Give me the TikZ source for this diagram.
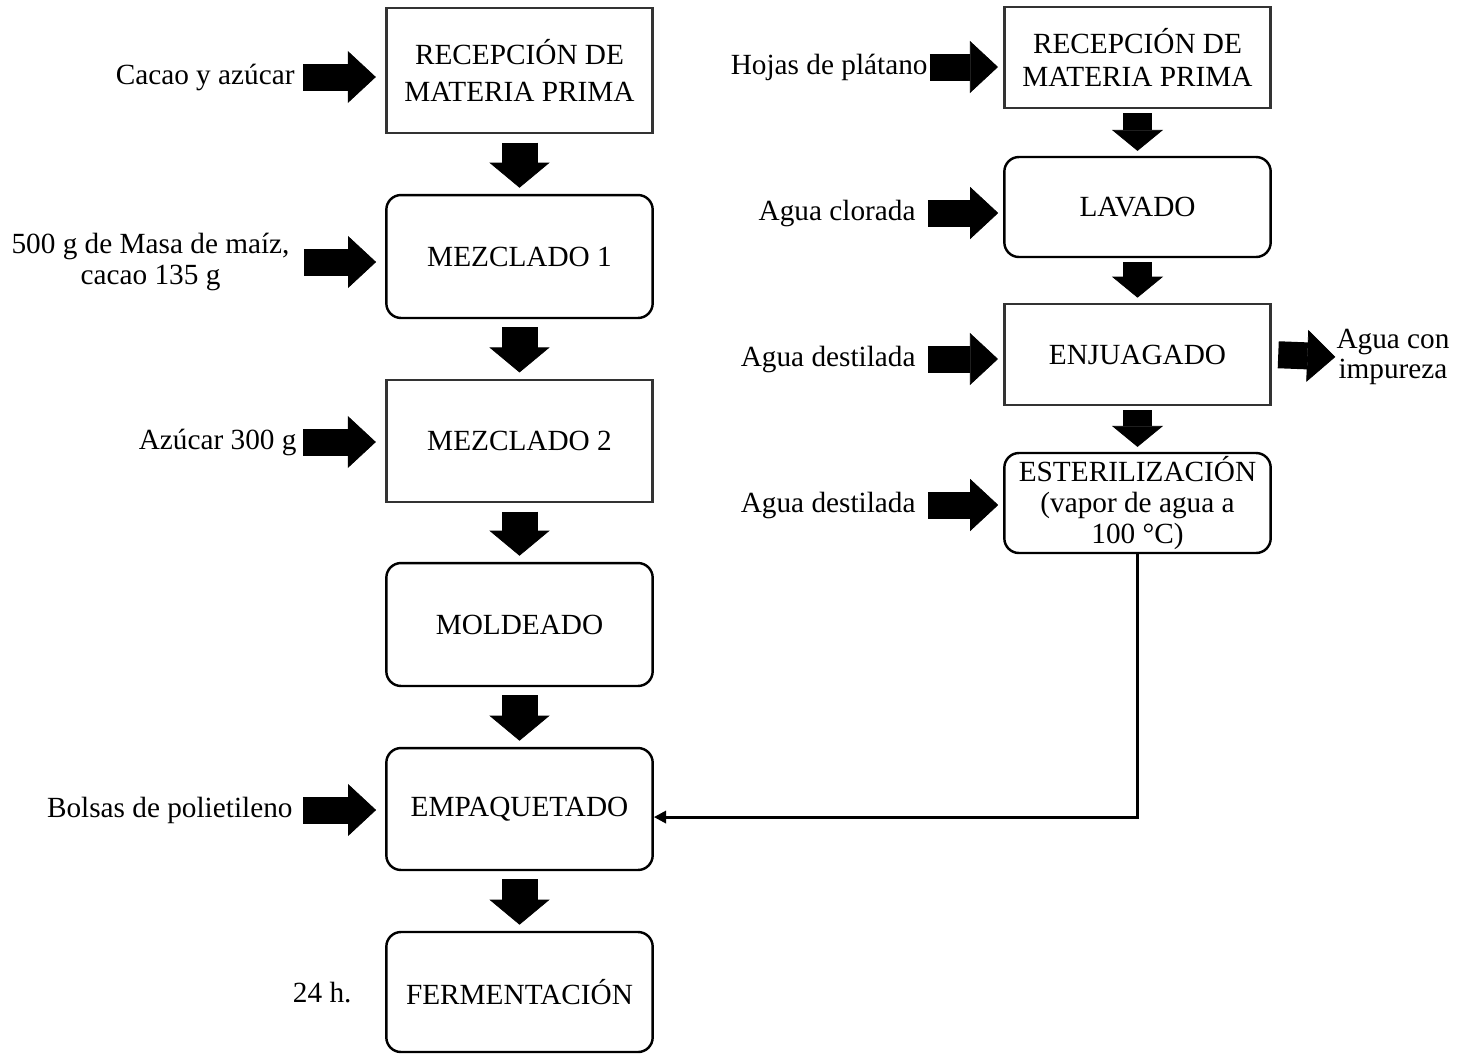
\documentclass[tikz,border=0pt]{standalone}
\usepackage{fontspec}
\setmainfont{Liberation Serif}
\usetikzlibrary{arrows.meta, positioning}

\begin{document}
\begin{tikzpicture}[x=0.41pt, y=-0.41pt]
    \tikzstyle{every node}=[font=\fontsize{12pt}{14pt}\selectfont]
    \tikzstyle{procbox}=[draw=black!80, line width=1.2pt, align=center, minimum width=\boxwidth]
    \tikzstyle{procround}=[procbox, draw=black, line width=1pt, rounded corners=6pt]
    \tikzstyle{inlabel}=[anchor=east, inner sep=0pt, align=center]
    \tikzstyle{bigdown}=[line width=14.76pt, -{Triangle[length=10.25pt, width=24.6pt, line width=0.3pt]}, shorten <=3.3pt, shorten >=2.5pt]
    \tikzstyle{smalldown}=[line width=11.9pt, -{Triangle[length=8.6pt, width=20.9pt, line width=0.3pt]}, shorten <=1.6pt, shorten >=2pt]
    \tikzset{feed/.style n args={2}{line width=11.07pt, -{Triangle[length=11.5pt, width=21.3pt, line width=0.3pt]}, shorten <=#1, shorten >=#2}}
    \edef\boxwidth{109.2pt}
    \useasboundingbox (0,0) rectangle (1464,1055);

    % left column: masa
    \node [procbox, minimum height=51.25pt, font=\fontsize{12pt}{15pt}\selectfont] (recep1) at (519.5,70.5) {RECEPCIÓN DE\\MATERIA PRIMA};
    \node [procround, minimum height=50.4pt] (mezcla1) at (519.5,256.5) {MEZCLADO 1};
    \node [procbox, minimum height=50pt] (mezcla2) at (519.5,441) {MEZCLADO 2};
    \node [procround, minimum height=50.4pt] (molde) at (519.5,624.5) {MOLDEADO};
    \node [procround, minimum height=50pt] (empaque) at (519.5,809) {EMPAQUETADO};
    \node [procround, minimum height=49.2pt] (ferment) at (519.5,992) {FERMENTACIÓN};

    % right column: hojas
    \node [procbox, minimum height=41.4pt, font=\fontsize{12pt}{13.7pt}\selectfont] (recep2) at (1137.5,57.5) {RECEPCIÓN DE\\MATERIA PRIMA};
    \node [procround, minimum height=41pt] (lavado) at (1137.5,207) {LAVADO};
    \node [procbox, minimum height=41.4pt] (enjuague) at (1137.5,354.5) {ENJUAGADO};
    \node [procround, minimum height=41pt, inner sep=1pt, font=\fontsize{12pt}{12.6pt}\selectfont] (esteril) at (1137.5,503) {ESTERILIZACIÓN\\(vapor de agua a\\100 °C)};

    % entradas
    \node [inlabel] (cacao) at (295,77) {Cacao y azúcar};
    \node [inlabel, font=\fontsize{12pt}{12.5pt}\selectfont] (masa) at (290,262) {500 g de Masa de maíz,\\cacao 135 g};
    \node [inlabel] (azucar) at (297,442) {Azúcar 300 g};
    \node [inlabel] (bolsas) at (293,810) {Bolsas de polietileno};
    \node [inlabel] (tiempo) at (352,993) {24 h.};
    \node [inlabel] (hojas) at (928,67) {Hojas de plátano};
    \node [inlabel] (cloro) at (916,213) {Agua clorada};
    \node [inlabel] (destil1) at (916,359) {Agua destilada};
    \node [inlabel] (destil2) at (916,505) {Agua destilada};
    \node [inlabel, anchor=west, font=\fontsize{12pt}{12pt}\selectfont] (impura) at (1336,357) {Agua con\\impureza};

    % flechas de proceso
    \foreach \a/\b in {recep1/mezcla1, mezcla1/mezcla2, mezcla2/molde, molde/empaque, empaque/ferment}
        \draw [bigdown] (\a) -- (\b);
    \foreach \a/\b in {recep2/lavado, lavado/enjuague, enjuague/esteril}
        \draw [smalldown] (\a) -- (\b);

    \draw [feed={3.3pt}{3.7pt}] (cacao.east) -- (cacao.east -| recep1.west);
    \draw [feed={5.7pt}{3.7pt}] (masa.east) -- (masa.east -| mezcla1.west);
    \draw [feed={2.5pt}{3.7pt}] (azucar.east) -- (azucar.east -| mezcla2.west);
    \draw [feed={4.1pt}{3.7pt}] (bolsas.east) -- (bolsas.east -| empaque.west);
    \draw [feed={0.8pt}{2pt}] (hojas.east) -- (hojas.east -| recep2.west);
    \draw [feed={4.9pt}{2pt}] (cloro.east) -- (cloro.east -| lavado.west);
    \draw [feed={4.9pt}{2pt}] (destil1.east) -- (destil1.east -| enjuague.west);
    \draw [feed={4.9pt}{2pt}] (destil2.east) -- (destil2.east -| esteril.west);
    \draw [feed={2.5pt}{0.3pt}] (enjuague.east) -- (impura.west);

    \draw [line width=1.2pt, -{Triangle[length=5pt, width=5pt]}] (esteril.south) |- ([yshift=-3.3pt]empaque.east);
\end{tikzpicture}
\end{document}
